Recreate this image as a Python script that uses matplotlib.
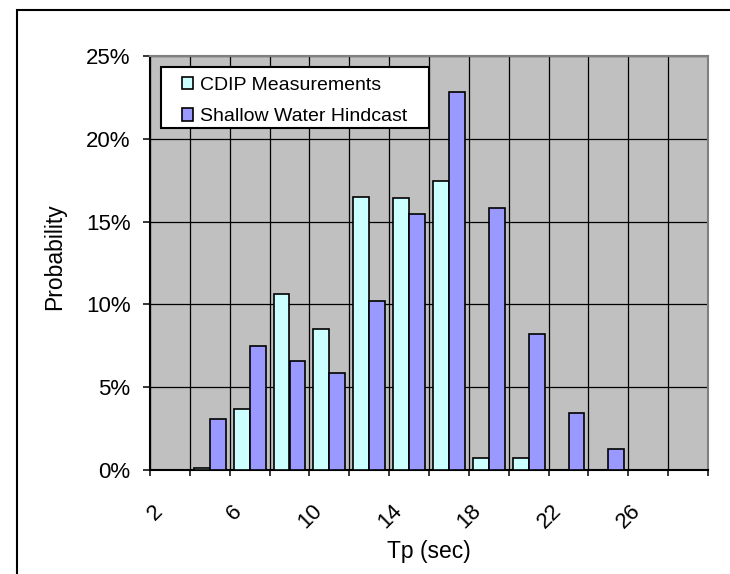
import matplotlib
matplotlib.use("Agg")
import matplotlib.pyplot as plt
import numpy as np
from matplotlib.patches import Rectangle
from matplotlib.ticker import PercentFormatter
from matplotlib.transforms import ScaledTranslation

# Tp bins (sec) and probabilities (%)
tp_bins = [2, 4, 6, 8, 10, 12, 14, 16, 18, 20, 22, 24, 26, 28]
cdip = [0, 0.15, 3.7, 10.6, 8.5, 16.5, 16.4, 17.45, 0.75, 0.75, 0, 0, 0, 0]
hindcast = [0, 3.05, 7.5, 6.6, 5.85, 10.2, 15.45, 22.8, 15.8, 8.2, 3.45, 1.25, 0, 0]
series_names = ["CDIP Measurements", "Shallow Water Hindcast"]
y_ticks = [0, 5, 10, 15, 20, 25]

plt.rcParams['font.family'] = ['Liberation Sans', 'DejaVu Sans']

fig = plt.figure(figsize=(7.3, 5.74), dpi=100)
ax = fig.add_axes([150 / 730, 1 - 470 / 574, 558 / 730, 414 / 574])
ax.set_facecolor('#C0C0C0')

x = np.arange(len(tp_bins))
w = 0.4
b1 = ax.bar(x - w / 2, cdip, w, color='#CCFFFF', edgecolor='black', linewidth=1.2,
            label=series_names[0], zorder=3)
b2 = ax.bar(x + w / 2, hindcast, w, color='#9999FF', edgecolor='black', linewidth=1.2,
            label=series_names[1], zorder=3)

ax.set_xlim(-0.5, len(tp_bins) - 0.5)
ax.set_ylim(0, 25)

# grid: horizontal every 5 %, vertical on category boundaries
ax.set_yticks(y_ticks)
ax.yaxis.set_major_formatter(PercentFormatter(decimals=0))
ax.set_xticks(np.arange(len(tp_bins) + 1) - 0.5)
ax.set_xticklabels([])
ax.grid(True, color='black', linewidth=0.9)
ax.set_axisbelow(True)

# labels every other bin
lab_idx = x[::2]
ax.set_xticks(lab_idx, minor=True)
ax.set_xticklabels([str(tp_bins[i]) for i in lab_idx], minor=True,
                   rotation=45, ha='right', va='top')
ax.tick_params(axis='x', which='minor', length=0, pad=22, labelsize=16)
ax.tick_params(axis='x', which='major', length=4.5, width=1.1, direction='out')
ax.tick_params(axis='y', length=5, width=1.1, pad=9, labelsize=16)
for lab in ax.xaxis.get_minorticklabels():
    lab.set_transform(lab.get_transform() + ScaledTranslation(-0.03, 0, fig.dpi_scale_trans))

for s in ['left', 'bottom']:
    ax.spines[s].set_color('black')
    ax.spines[s].set_linewidth(1.5)
for s in ['top', 'right']:
    ax.spines[s].set_color('#808080')
    ax.spines[s].set_linewidth(1.5)

ax.set_xlabel('Tp (sec)', fontsize=16.5, va='center')
ax.xaxis.set_label_coords(0.5, -0.198)
ax.set_ylabel('Probability', fontsize=16.5, va='center')
ax.yaxis.set_label_coords(-0.171, 0.515)

# legend box
ax.add_patch(Rectangle((0.0197, 0.826), 0.4803, 0.1473, transform=ax.transAxes,
                       facecolor='white', edgecolor='black', linewidth=1.5, zorder=4))
leg = ax.legend(handles=[b1, b2], loc='upper left', bbox_to_anchor=(0.057, 0.95),
                frameon=False, fontsize=14, borderpad=0, borderaxespad=0,
                handlelength=0.6, handleheight=0.6, handletextpad=0.35,
                labelspacing=0.75)
leg.set_zorder(5)

# outer chart frame
fig.add_artist(Rectangle((17 / 730, -0.05), 1.1, 1 - 10 / 574 + 0.05,
                         transform=fig.transFigure, fill=False,
                         edgecolor='black', linewidth=1.5))

plt.savefig('out.png', dpi=100)
plt.close()
